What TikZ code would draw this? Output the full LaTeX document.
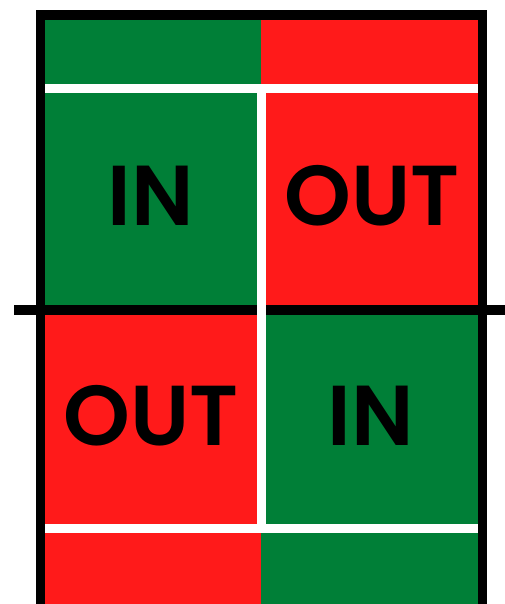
\documentclass[tikz,border=0pt]{standalone}
\usepackage{fontspec}
\setmainfont{Poppins}[BoldFont={* SemiBold}]
\definecolor{ingreen}{RGB}{0,127,55}
\definecolor{outred}{RGB}{255,26,26}
\begin{document}
\begin{tikzpicture}[x=1pt,y=1pt,
  label/.style={font=\fontsize{85}{85}\selectfont\bfseries, text=black, inner sep=0pt, anchor=base},
  whiteline/.style={draw=white, line width=9pt},
  blackline/.style={draw=black, line width=9.5pt}]
\useasboundingbox (0,0) rectangle (505,604);
\begin{scope}
\clip (0,0) rectangle (505,604);
% top strip
\fill[ingreen] (45,584) rectangle (261,520);
\fill[outred] (261,584) rectangle (478,520);
% quadrants
\fill[ingreen] (45,520) rectangle (261,294);
\fill[outred] (261,520) rectangle (478,294);
\fill[outred] (45,294) rectangle (261,71);
\fill[ingreen] (261,294) rectangle (478,71);
% bottom strip
\fill[outred] (45,71) rectangle (261,-5);
\fill[ingreen] (261,71) rectangle (478,-5);
% frame
\draw[blackline] (40.5,-10) rectangle (482.5,589);
% middle black line
\draw[draw=black, line width=10pt] (14,294) -- (505,294);
% white lines
\draw[whiteline] (45,515.5) -- (478,515.5);
\draw[whiteline] (45,75.5) -- (478,75.5);
\draw[whiteline] (261.5,515.5) -- (261.5,75.5);
\end{scope}
\node[label] (inA) at (151,378) {IN};
\node[label] (outA) at (372.5,378) {OUT};
\node[label] (outB) at (151.5,158) {OUT};
\node[label] (inB) at (371,158) {IN};
\end{tikzpicture}
\end{document}
